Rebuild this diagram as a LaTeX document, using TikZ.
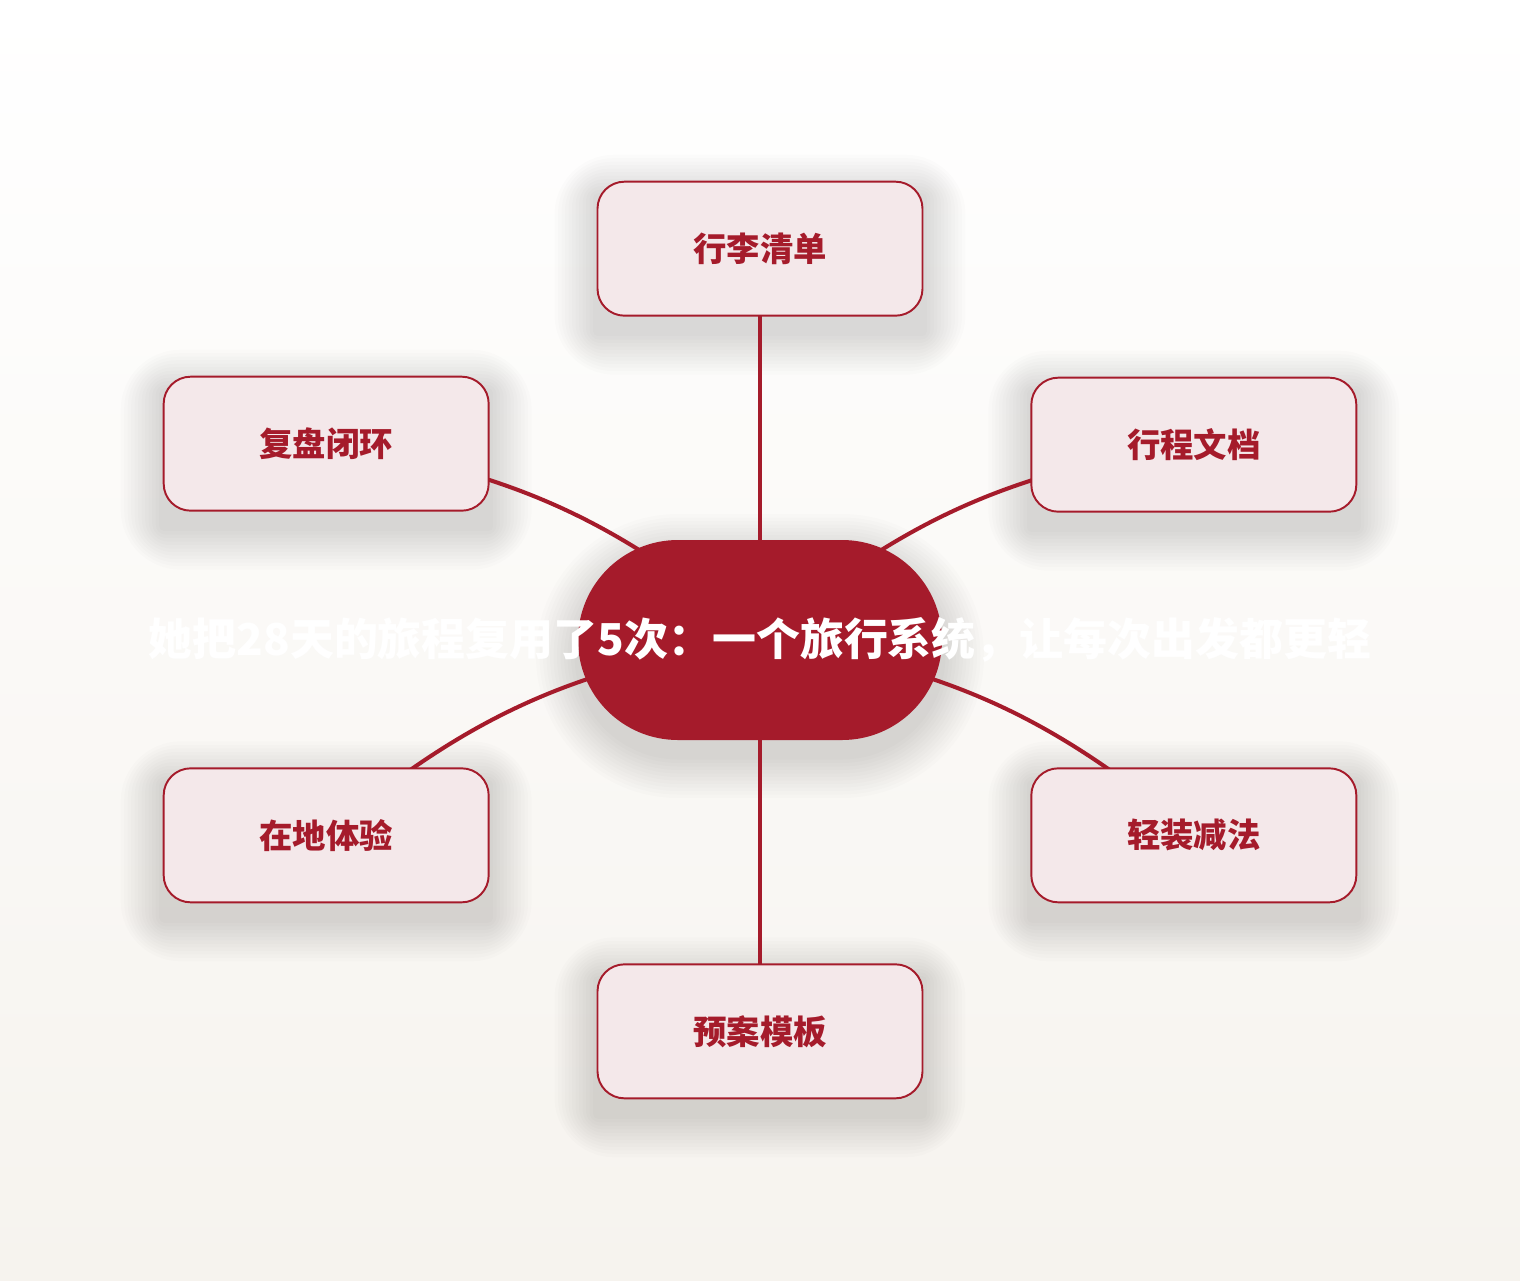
\documentclass[tikz,border=0pt]{standalone}
\usepackage{fontspec}
\newfontfamily\cjk{Noto Sans CJK SC}
\usetikzlibrary{positioning,shapes.misc}

\definecolor{zhuhong}{RGB}{165,27,43}
\definecolor{fenhong}{RGB}{244,232,234}
\definecolor{dibei}{RGB}{246,243,238}

\pgfdeclarelayer{bg}
\pgfdeclarelayer{ying}
\pgfdeclarelayer{lian}
\pgfsetlayers{bg,ying,lian,main}

\tikzset{
  zhuti/.style={fill=zhuhong, rounded corners=20mm, minimum width=72.8mm, minimum height=40mm},
  biaotizi/.style={text=white, font=\cjk\bfseries\fontsize{25}{30}\selectfont},
  fenzhi/.style={draw=zhuhong, line width=1.1pt, fill=fenhong, rounded corners=5.4mm,
    minimum width=65mm, minimum height=26.8mm, text=zhuhong,
    font=\cjk\bfseries\fontsize{19}{22}\selectfont},
  xian/.style={draw=zhuhong, line width=2.3pt},
  yingzi/.style={fill=black, opacity=0.011},
}

\begin{document}
\begin{tikzpicture}[x=0.2mm, y=-0.2mm]

 \begin{pgfonlayer}{bg}
 \shade [top color=white, bottom color=dibei] (0,0) rectangle (1520,1280);
 \end{pgfonlayer}

 \node (zhongxin) [zhuti] at (760,640) {};
 \node (lixing) [fenzhi, above=44.6mm of zhongxin] {行李清单};
 \node (yuan) [fenzhi, below=44.6mm of zhongxin] {预案模板};
 \node (xingcheng) [fenzhi, above right=5.4mm and 17.6mm of zhongxin] {行程文档};
 \node (fupan) [fenzhi, above left=5.6mm and 17.6mm of zhongxin] {复盘闭环};
 \node (qingzhuang) [fenzhi, below right=5.4mm and 17.6mm of zhongxin] {轻装减法};
 \node (zaidi) [fenzhi, below left=5.4mm and 17.6mm of zhongxin] {在地体验};
 \node (biaoti) [biaotizi] at (zhongxin.center) {她把28天的旅程复用了5次：一个旅行系统，让每次出发都更轻};

 % soft shadows
 \begin{pgfonlayer}{ying}
 \foreach \n in {lixing, yuan, xingcheng, fupan, qingzhuang, zaidi}
  \foreach \k [evaluate=\k as \rr using 5.4+\k*0.7] in {1,...,12}
   \fill [yingzi, rounded corners=\rr mm] ([shift={(-\k*3.5,16-\k*3.5)}]\n.north west) rectangle ([shift={(\k*3.5,16+\k*3.5)}]\n.south east);
 \foreach \k in {1,...,12}
  \node (ying\k) [yingzi, shape=rounded rectangle, inner sep=0pt,
    minimum width=72.8mm+\k*1.4mm, minimum height=40mm+\k*1.4mm] at ([yshift=-3.2mm]zhongxin.center) {};
 \end{pgfonlayer}

 \begin{pgfonlayer}{lian}
 \path [xian] (zhongxin.center) edge (lixing.center);
 \path [xian] (zhongxin.center) edge (yuan.center);
 \path [xian] (zhongxin.center) edge[bend left=16] (xingcheng.center);
 \path [xian] (zhongxin.center) edge[bend right=16] (fupan.center);
 \path [xian] (zhongxin.center) edge[bend left=16] (qingzhuang.center);
 \path [xian] (zhongxin.center) edge[bend right=16] (zaidi.center);
 \end{pgfonlayer}
\end{tikzpicture}
\end{document}
